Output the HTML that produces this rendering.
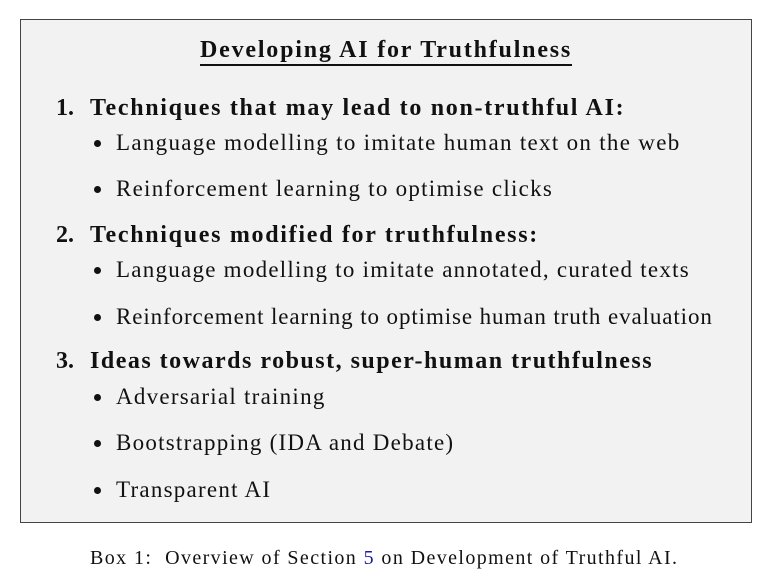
<!DOCTYPE html>
<html><head><meta charset="utf-8"><style>
body{margin:0;width:780px;height:582px;background:#fff;position:relative;font-family:"Liberation Serif",serif;color:#111;overflow:hidden}
.box{position:absolute;left:20px;top:19px;width:732px;height:504px;background:#f2f2f2;border:1.6px solid #444;box-sizing:border-box}
.t{position:absolute;white-space:nowrap;line-height:1;font-size:23px;letter-spacing:1.25px}
.b{font-weight:bold;font-size:24px;letter-spacing:1.7px}
.n{position:absolute;left:56px;font-weight:bold;font-size:24px;line-height:1}
.dot{position:absolute;width:7px;height:7px;border-radius:50%;background:#111}
</style></head><body>
<div class="box"></div>
<div class="t b" style="left:200px;top:38px;letter-spacing:1.8px">Developing AI for Truthfulness</div>
<div style="position:absolute;left:200px;top:64px;width:372px;height:1.5px;background:#111"></div>

<div class="n" style="top:96px">1.</div><div class="t b" style="left:90px;top:96px">Techniques that may lead to non-truthful AI:</div>
<div class="dot" style="left:94px;top:140px"></div><div class="t" style="left:116px;top:131px;letter-spacing:1.3px">Language modelling to imitate human text on the web</div>
<div class="dot" style="left:94px;top:186px"></div><div class="t" style="left:116px;top:177px">Reinforcement learning to optimise clicks</div>

<div class="n" style="top:223px">2.</div><div class="t b" style="left:90px;top:223px">Techniques modified for truthfulness:</div>
<div class="dot" style="left:94px;top:267px"></div><div class="t" style="left:116px;top:258px">Language modelling to imitate annotated, curated texts</div>
<div class="dot" style="left:94px;top:314px"></div><div class="t" style="left:116px;top:305px;letter-spacing:0.9px">Reinforcement learning to optimise human truth evaluation</div>

<div class="n" style="top:349px">3.</div><div class="t b" style="left:90px;top:349px;letter-spacing:1.5px">Ideas towards robust, super-human truthfulness</div>
<div class="dot" style="left:94px;top:394px"></div><div class="t" style="left:116px;top:385px">Adversarial training</div>
<div class="dot" style="left:94px;top:440px"></div><div class="t" style="left:116px;top:431px">Bootstrapping (IDA and Debate)</div>
<div class="dot" style="left:94px;top:487px"></div><div class="t" style="left:116px;top:478px">Transparent AI</div>

<div class="t" style="left:90px;top:548px;font-size:20px;letter-spacing:1.4px">Box 1:&nbsp; Overview of Section <span style="color:#1a1aa0">5</span> on Development of Truthful AI.</div>
</body></html>
